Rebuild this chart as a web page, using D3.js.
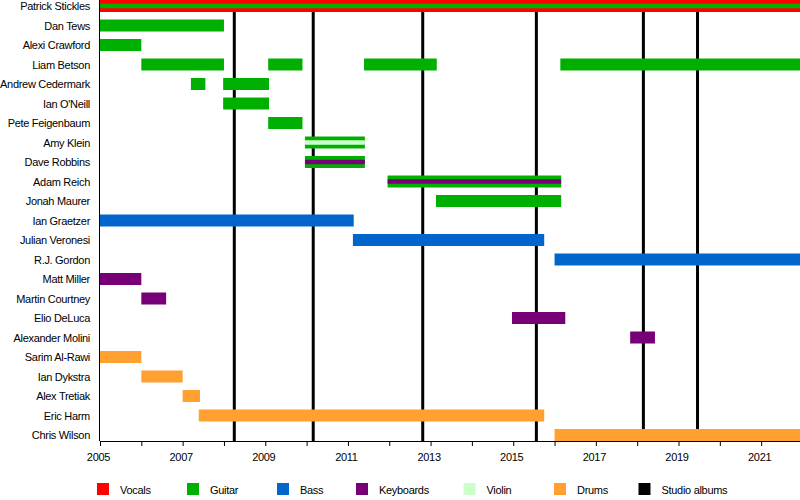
<!DOCTYPE html>
<html>
<head>
<meta charset="utf-8">
<script src="https://cdn.jsdelivr.net/npm/d3@7"></script>
<style>
  html, body { margin: 0; padding: 0; background: #fff; }
  svg { display: block; font-family: "Liberation Sans", Arial, sans-serif; }
  svg text { letter-spacing: -0.3px; }
</style>
</head>
<body>
<svg id="chart" width="800" height="500"></svg>
<script>
// ---- data ----
const members = ["Patrick Stickles","Dan Tews","Alexi Crawford","Liam Betson","Andrew Cedermark","Ian O'Neill","Pete Feigenbaum","Amy Klein","Dave Robbins","Adam Reich","Jonah Maurer","Ian Graetzer","Julian Veronesi","R.J. Gordon","Matt Miller","Martin Courtney","Elio DeLuca","Alexander Molini","Sarim Al-Rawi","Ian Dykstra","Alex Tretiak","Eric Harm","Chris Wilson"];
const roles = ["Vocals","Guitar","Bass","Keyboards","Violin","Drums"];
const legendLabels = ["Vocals","Guitar","Bass","Keyboards","Violin","Drums","Studio albums"];
const timelineStart = 2005;
const timelineEnd = 2021.94;
const END = timelineEnd;

// periods: member, role, start, end, layer (main bar or inner stripe)
const periodMember = ["Patrick Stickles","Patrick Stickles","Dan Tews","Alexi Crawford","Liam Betson","Liam Betson","Liam Betson","Liam Betson","Andrew Cedermark","Andrew Cedermark","Ian O'Neill","Pete Feigenbaum","Amy Klein","Amy Klein","Dave Robbins","Dave Robbins","Adam Reich","Adam Reich","Jonah Maurer","Ian Graetzer","Julian Veronesi","R.J. Gordon","Matt Miller","Martin Courtney","Elio DeLuca","Alexander Molini","Sarim Al-Rawi","Ian Dykstra","Alex Tretiak","Eric Harm","Chris Wilson"];
const periodRole   = ["Vocals","Guitar","Guitar","Guitar","Guitar","Guitar","Guitar","Guitar","Guitar","Guitar","Guitar","Guitar","Guitar","Violin","Guitar","Keyboards","Guitar","Keyboards","Guitar","Bass","Bass","Bass","Keyboards","Keyboards","Keyboards","Keyboards","Drums","Drums","Drums","Drums","Drums"];
const periodStart  = [2005,2005,2005,2005,2006.0,2009.07,2011.39,2016.14,2007.2,2007.98,2007.98,2009.07,2009.96,2009.96,2009.96,2009.96,2011.96,2011.96,2013.13,2005,2011.12,2016.0,2005,2006.0,2014.97,2017.83,2005,2006.0,2007.0,2007.39,2016.0];
const periodEnd    = [END,END,2008.0,2006.0,2008.0,2009.9,2013.15,END,2007.55,2009.09,2009.09,2009.9,2011.41,2011.41,2011.41,2011.41,2016.16,2016.16,2016.16,2011.14,2015.75,END,2006.0,2006.6,2016.26,2018.43,2006.0,2007.0,2007.42,2015.75,END];
const periodLayer  = ["bar","stripe","bar","bar","bar","bar","bar","bar","bar","bar","bar","bar","bar","stripe","bar","stripe","bar","stripe","bar","bar","bar","bar","bar","bar","bar","bar","bar","bar","bar","bar","bar"];

const albumDates = [2008.25, 2010.16, 2012.81, 2015.56, 2018.15, 2019.46];
const majorTicks = [2005,2007,2009,2011,2013,2015,2017,2019,2021];
const minorTicks = d3.range(2005, 2022, 1);

(function () {
// ---- styles ----
const roleColor = d3.scaleOrdinal()
  .domain(roles)
  .range(["#ff0000","#00b000","#0066cc","#770077","#ccffcc","#ffa030"]);

const svg = d3.select("#chart");
const plotLeft = 100, plotRight = 800, plotTop = 0, axisY = 441;

const x = d3.scaleLinear().domain([timelineStart, timelineEnd]).range([plotLeft, plotRight]);
const y = d3.scalePoint().domain(members).range([6, 435]);
const barH = 12, stripeH = 4.5;

const periods = periodMember.map((m, i) => ({
  member: m, role: periodRole[i], start: periodStart[i], end: periodEnd[i], layer: periodLayer[i]
}));

// album lines (behind bars)
svg.append("g").selectAll("line").data(albumDates).join("line")
  .attr("x1", d => x(d)).attr("x2", d => x(d))
  .attr("y1", plotTop).attr("y2", axisY)
  .attr("stroke", "#000").attr("stroke-width", 3);

// left axis line
svg.append("line").attr("x1", plotLeft - 0.5).attr("x2", plotLeft - 0.5).attr("y1", plotTop).attr("y2", axisY)
  .attr("stroke", "#000").attr("stroke-width", 1);

// bars
svg.append("g").selectAll("rect").data(periods.filter(p => p.layer === "bar")).join("rect")
  .attr("x", d => x(d.start))
  .attr("width", d => x(d.end) - x(d.start))
  .attr("y", d => y(d.member) - barH / 2)
  .attr("height", barH)
  .attr("fill", d => roleColor(d.role));

// inner stripes
svg.append("g").selectAll("rect").data(periods.filter(p => p.layer === "stripe")).join("rect")
  .attr("x", d => x(d.start))
  .attr("width", d => x(d.end) - x(d.start))
  .attr("y", d => y(d.member) - stripeH / 2)
  .attr("height", stripeH)
  .attr("fill", d => roleColor(d.role));

// member labels
svg.append("g").selectAll("text").data(members).join("text")
  .attr("x", 90).attr("y", d => y(d) + 4)
  .attr("text-anchor", "end")
  .attr("font-size", 11)
  .attr("fill", "#000")
  .text(d => d);

// bottom axis
const axisMinor = d3.axisBottom(x).tickValues(minorTicks).tickSize(5).tickFormat("");
svg.append("g").attr("transform", `translate(0,${axisY})`).call(axisMinor)
  .call(g => g.select(".domain").attr("d", `M${plotLeft},0.5H${plotRight}`).attr("stroke", "#000"))
  .call(g => g.selectAll(".tick line").attr("stroke", "#000"));

const axisMajor = d3.axisBottom(x).tickValues(majorTicks).tickSize(0).tickPadding(12).tickFormat(d3.format("d"));
svg.append("g").attr("transform", `translate(0,${axisY})`).call(axisMajor)
  .call(g => g.select(".domain").remove())
  .call(g => g.selectAll(".tick text").attr("font-size", 11).attr("font-family", "Liberation Sans, Arial, sans-serif").attr("fill", "#000").attr("dx", -2));

// legend
const legendColors = legendLabels.map(l => l === "Studio albums" ? "#000" : roleColor(l));
const legendXPos = [97, 187, 277, 356, 463.5, 554, 638.5];
const lg = svg.append("g").selectAll("g").data(legendLabels).join("g")
  .attr("transform", (d, i) => `translate(${legendXPos[i]},483)`);
lg.append("rect").attr("width", 12).attr("height", 12).attr("fill", (d, i) => legendColors[i]);
lg.append("text").attr("x", 23).attr("y", 10.5).attr("font-size", 11).attr("fill", "#000").text(d => d);
})();
</script>
</body>
</html>
